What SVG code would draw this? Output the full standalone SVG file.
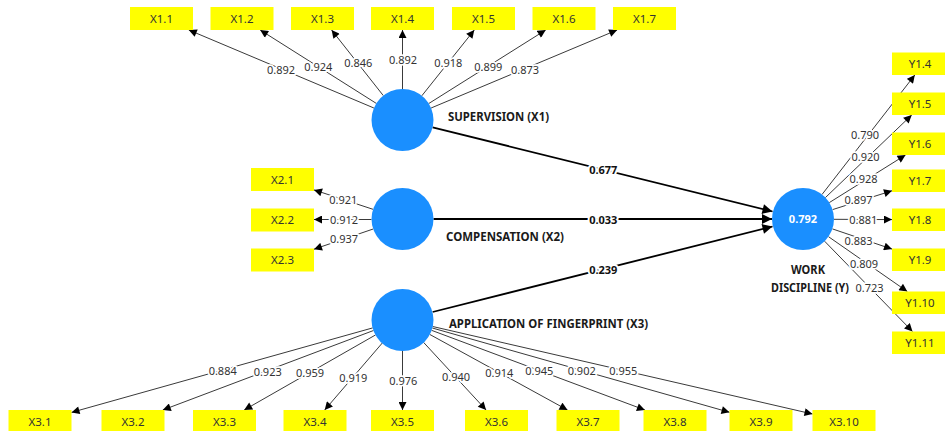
<svg xmlns="http://www.w3.org/2000/svg" width="945" height="431" viewBox="0 0 945 431">
<style>
.bg{fill:#fff}
.lv{fill:#1a8fff}
.box{fill:#ffff00}
.bt{font-family:"Noto Sans","Open Sans",sans-serif;font-size:11.5px;fill:#333;text-anchor:middle}
.ln{stroke:#3a3a3a;stroke-width:1;fill:none}
.sp{stroke:#000;stroke-width:1.8;fill:none}
.ld{font-family:"Noto Sans","Open Sans",sans-serif;font-size:11px;fill:#333;text-anchor:middle;stroke:#fff;stroke-width:3.5;paint-order:stroke;stroke-linejoin:round}
.pc{font-family:"Noto Sans","Open Sans",sans-serif;font-size:11px;font-weight:bold;fill:#111;text-anchor:middle;stroke:#fff;stroke-width:4;paint-order:stroke;stroke-linejoin:round}
.nm{font-family:"Noto Sans","Open Sans",sans-serif;font-size:12px;font-weight:bold;fill:#1a1a1a}
.r2{font-family:"Noto Sans","Open Sans",sans-serif;font-size:11px;font-weight:bold;fill:#fff;text-anchor:middle}
</style>
<defs>
<marker id="ah" viewBox="0 0 10 10" refX="10" refY="5" markerWidth="9" markerHeight="8" markerUnits="userSpaceOnUse" orient="auto">
<path d="M0,0 L10,5 L0,10 z" fill="#000"/>
</marker>
<marker id="ahb" viewBox="0 0 10 10" refX="10" refY="5" markerWidth="12" markerHeight="10" markerUnits="userSpaceOnUse" orient="auto">
<path d="M0,0 L10,5 L0,10 z" fill="#000"/>
</marker>
</defs>
<rect class="bg" x="0" y="0" width="945" height="431"/>

<g id="connectors">
<!-- X1 loadings -->
<line class="ln" x1="373.9" y1="108" x2="188.8" y2="30" marker-end="url(#ah)"/>
<line class="ln" x1="376.3" y1="103.4" x2="260.2" y2="30" marker-end="url(#ah)"/>
<line class="ln" x1="383.3" y1="95.6" x2="331.6" y2="30" marker-end="url(#ah)"/>
<line class="ln" x1="402.5" y1="89" x2="402.5" y2="30" marker-end="url(#ah)"/>
<line class="ln" x1="421.8" y1="95.8" x2="474.3" y2="30" marker-end="url(#ah)"/>
<line class="ln" x1="428.8" y1="103.5" x2="545.7" y2="30" marker-end="url(#ah)"/>
<line class="ln" x1="431.1" y1="108" x2="617.1" y2="30" marker-end="url(#ah)"/>
<!-- X2 loadings -->
<line class="ln" x1="373" y1="209.3" x2="314" y2="189.9" marker-end="url(#ah)"/>
<line class="ln" x1="371.5" y1="219.5" x2="314" y2="219.5" marker-end="url(#ah)"/>
<line class="ln" x1="373.2" y1="229" x2="314" y2="249.2" marker-end="url(#ah)"/>
<!-- Y loadings -->
<line class="ln" x1="822" y1="194.5" x2="914.8" y2="75" marker-end="url(#ah)"/>
<line class="ln" x1="825.4" y1="197.6" x2="911.7" y2="115" marker-end="url(#ah)"/>
<line class="ln" x1="829.3" y1="202.6" x2="905.5" y2="155" marker-end="url(#ah)"/>
<line class="ln" x1="832.6" y1="209.6" x2="892" y2="190.75" marker-end="url(#ah)"/>
<line class="ln" x1="834" y1="219.3" x2="892" y2="219.6" marker-end="url(#ah)"/>
<line class="ln" x1="832.4" y1="228.9" x2="892" y2="249.1" marker-end="url(#ah)"/>
<line class="ln" x1="828.5" y1="236.7" x2="907.3" y2="291.5" marker-end="url(#ah)"/>
<line class="ln" x1="824.6" y1="241.2" x2="912.5" y2="331.5" marker-end="url(#ah)"/>
<!-- X3 loadings -->
<line class="ln" x1="372.7" y1="327.9" x2="71.5" y2="412.4" marker-end="url(#ah)"/>
<line class="ln" x1="373.5" y1="330.5" x2="162.8" y2="410" marker-end="url(#ah)"/>
<line class="ln" x1="375.6" y1="334.9" x2="244.2" y2="410" marker-end="url(#ah)"/>
<line class="ln" x1="382.3" y1="343" x2="324.7" y2="410" marker-end="url(#ah)"/>
<line class="ln" x1="402.5" y1="350.5" x2="402.5" y2="410" marker-end="url(#ah)"/>
<line class="ln" x1="423.5" y1="342.3" x2="486.1" y2="410" marker-end="url(#ah)"/>
<line class="ln" x1="429.7" y1="334.4" x2="567.5" y2="410" marker-end="url(#ah)"/>
<line class="ln" x1="431.5" y1="330.3" x2="644.9" y2="410" marker-end="url(#ah)"/>
<line class="ln" x1="432.3" y1="328" x2="729.5" y2="412.3" marker-end="url(#ah)"/>
<line class="ln" x1="432.7" y1="326.5" x2="812.5" y2="414" marker-end="url(#ah)"/>
<!-- structural paths -->
<line class="sp" x1="432.6" y1="127.4" x2="772.5" y2="211.5" marker-end="url(#ahb)"/>
<line class="sp" x1="433.5" y1="219" x2="772" y2="219" marker-end="url(#ahb)"/>
<line class="sp" x1="432.6" y1="312" x2="772.5" y2="226.5" marker-end="url(#ahb)"/>

<!-- loading labels -->
<text class="ld" x="281" y="73.9">0.892</text>
<text class="ld" x="318.3" y="70.6">0.924</text>
<text class="ld" x="358.3" y="67.2">0.846</text>
<text class="ld" x="403" y="63.9">0.892</text>
<text class="ld" x="448.3" y="67.2">0.918</text>
<text class="ld" x="488.3" y="70.6">0.899</text>
<text class="ld" x="525" y="73.9">0.873</text>

<text class="ld" x="343.3" y="203.9">0.921</text>
<text class="ld" x="344" y="223.9">0.912</text>
<text class="ld" x="344" y="243.2">0.937</text>

<text class="ld" x="865" y="138.5">0.790</text>
<text class="ld" x="865.5" y="160.6">0.920</text>
<text class="ld" x="863.5" y="183.4">0.928</text>
<text class="ld" x="858.5" y="204.4">0.897</text>
<text class="ld" x="863.3" y="224.2">0.881</text>
<text class="ld" x="858.5" y="244.9">0.883</text>
<text class="ld" x="864" y="267.9">0.809</text>
<text class="ld" x="869.5" y="292.2">0.723</text>

<text class="ld" x="222.7" y="374.6">0.884</text>
<text class="ld" x="267.7" y="375.6">0.923</text>
<text class="ld" x="310" y="377.2">0.959</text>
<text class="ld" x="353.3" y="381.6">0.919</text>
<text class="ld" x="403.3" y="384.6">0.976</text>
<text class="ld" x="456" y="380.9">0.940</text>
<text class="ld" x="499.3" y="377.2">0.914</text>
<text class="ld" x="539.3" y="374.9">0.945</text>
<text class="ld" x="581.7" y="374.9">0.902</text>
<text class="ld" x="623.3" y="374.9">0.955</text>

<!-- path coefficients -->
<text class="pc" x="603.3" y="174">0.677</text>
<text class="pc" x="603.3" y="224">0.033</text>
<text class="pc" x="603.3" y="274">0.239</text>
</g>

<!-- latent variables -->
<g id="X1">
<circle class="lv" cx="402.5" cy="120" r="31"/>
<text class="nm" x="448" y="121" textLength="101" lengthAdjust="spacingAndGlyphs">SUPERVISION (X1)</text>
</g>
<g id="X2">
<circle class="lv" cx="402.5" cy="219" r="31"/>
<text class="nm" x="446" y="241" textLength="118" lengthAdjust="spacingAndGlyphs">COMPENSATION (X2)</text>
</g>
<g id="X3">
<circle class="lv" cx="402.5" cy="320" r="31"/>
<text class="nm" x="449" y="327.6" textLength="199" lengthAdjust="spacingAndGlyphs">APPLICATION OF FINGERPRINT (X3)</text>
</g>
<g id="Y">
<circle class="lv" cx="803" cy="219" r="31"/>
<text class="r2" x="803" y="223">0.792</text>
<text class="nm" x="808" y="274.3" text-anchor="middle" textLength="34" lengthAdjust="spacingAndGlyphs">WORK</text>
<text class="nm" x="810" y="291.6" text-anchor="middle" textLength="78" lengthAdjust="spacingAndGlyphs">DISCIPLINE (Y)</text>
</g>

<!-- X1 indicators -->
<g id="X1.1"><rect class="box" x="130" y="7" width="63" height="23"/><text class="bt" x="161.5" y="22.5">X1.1</text></g>
<g id="X1.2"><rect class="box" x="210.5" y="7" width="63" height="23"/><text class="bt" x="242" y="22.5">X1.2</text></g>
<g id="X1.3"><rect class="box" x="291" y="7" width="63" height="23"/><text class="bt" x="322.5" y="22.5">X1.3</text></g>
<g id="X1.4"><rect class="box" x="371" y="7" width="63" height="23"/><text class="bt" x="402.5" y="22.5">X1.4</text></g>
<g id="X1.5"><rect class="box" x="452" y="7" width="63" height="23"/><text class="bt" x="483.5" y="22.5">X1.5</text></g>
<g id="X1.6"><rect class="box" x="532.5" y="7" width="63" height="23"/><text class="bt" x="564" y="22.5">X1.6</text></g>
<g id="X1.7"><rect class="box" x="613" y="7" width="63" height="23"/><text class="bt" x="644.5" y="22.5">X1.7</text></g>

<!-- X2 indicators -->
<g id="X2.1"><rect class="box" x="251" y="168" width="63" height="23"/><text class="bt" x="282.5" y="183.5">X2.1</text></g>
<g id="X2.2"><rect class="box" x="251" y="208.5" width="63" height="23"/><text class="bt" x="282.5" y="224">X2.2</text></g>
<g id="X2.3"><rect class="box" x="251" y="248.5" width="63" height="23"/><text class="bt" x="282.5" y="264">X2.3</text></g>

<!-- Y indicators -->
<g id="Y1.4"><rect class="box" x="892" y="52.5" width="63" height="22.5"/><text class="bt" x="920" y="67.7">Y1.4</text></g>
<g id="Y1.5"><rect class="box" x="892" y="92.5" width="63" height="22.5"/><text class="bt" x="920" y="107.7">Y1.5</text></g>
<g id="Y1.6"><rect class="box" x="892" y="132.5" width="63" height="22.5"/><text class="bt" x="920" y="147.7">Y1.6</text></g>
<g id="Y1.7"><rect class="box" x="892" y="169.5" width="63" height="22.5"/><text class="bt" x="920" y="184.7">Y1.7</text></g>
<g id="Y1.8"><rect class="box" x="892" y="208.5" width="63" height="22.5"/><text class="bt" x="920" y="223.7">Y1.8</text></g>
<g id="Y1.9"><rect class="box" x="892" y="248.5" width="63" height="22.5"/><text class="bt" x="920" y="263.7">Y1.9</text></g>
<g id="Y1.10"><rect class="box" x="892" y="291.5" width="63" height="22.5"/><text class="bt" x="920" y="306.7">Y1.10</text></g>
<g id="Y1.11"><rect class="box" x="892" y="331.5" width="63" height="22.5"/><text class="bt" x="920" y="346.7">Y1.11</text></g>

<!-- X3 indicators -->
<g id="X3.1"><rect class="box" x="8.5" y="410" width="63" height="23"/><text class="bt" x="40" y="425.7">X3.1</text></g>
<g id="X3.2"><rect class="box" x="101.5" y="410" width="63" height="23"/><text class="bt" x="133" y="425.7">X3.2</text></g>
<g id="X3.3"><rect class="box" x="193" y="410" width="63" height="23"/><text class="bt" x="224.5" y="425.7">X3.3</text></g>
<g id="X3.4"><rect class="box" x="283.5" y="410" width="63" height="23"/><text class="bt" x="315" y="425.7">X3.4</text></g>
<g id="X3.5"><rect class="box" x="371" y="410" width="63" height="23"/><text class="bt" x="402.5" y="425.7">X3.5</text></g>
<g id="X3.6"><rect class="box" x="465" y="410" width="63" height="23"/><text class="bt" x="496.5" y="425.7">X3.6</text></g>
<g id="X3.7"><rect class="box" x="556.5" y="410" width="63" height="23"/><text class="bt" x="588" y="425.7">X3.7</text></g>
<g id="X3.8"><rect class="box" x="643.5" y="410" width="63" height="23"/><text class="bt" x="675" y="425.7">X3.8</text></g>
<g id="X3.9"><rect class="box" x="729.5" y="410" width="63" height="23"/><text class="bt" x="761" y="425.7">X3.9</text></g>
<g id="X3.10"><rect class="box" x="812.5" y="410" width="63" height="23"/><text class="bt" x="844" y="425.7">X3.10</text></g>
</svg>
